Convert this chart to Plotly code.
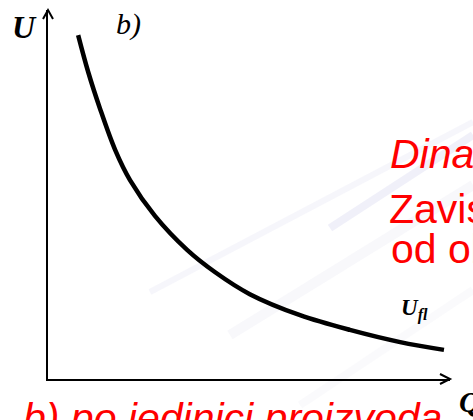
import plotly.graph_objects as go

# Average fixed cost per unit of output (U_fl) vs. quantity Q
q_values = [0.75, 1.00, 1.29, 1.67, 2.04, 2.66, 3.46, 4.15, 5.02, 6.27, 7.51, 8.76, 9.85]
u_values = [9.32, 8.32, 7.34, 6.21, 5.39, 4.42, 3.50, 2.90, 2.30, 1.73, 1.33, 1.00, 0.79]

axis_range = [0, 10]

W, H = 473, 420
M_L, M_R, M_T, M_B = 48, 23, 10, 41
PW, PH = W - M_L - M_R, H - M_T - M_B


def px(x):
    return (x - M_L) / PW


def py(y):
    return (H - M_B - y) / PH


fig = go.Figure()
fig.add_trace(go.Scatter(
    x=q_values, y=u_values, mode="lines",
    line=dict(color="black", width=4.5, shape="spline", smoothing=1.0),
    hoverinfo="skip", showlegend=False,
))

shapes = []
# faint diagonal streaks in the slide background
for (x0, y0, x1, y1, col, w) in [
    (150, 292, 473, 122, "rgba(215,215,235,0.22)", 6),
    (330, 228, 473, 135, "rgba(205,205,235,0.30)", 8),
    (230, 335, 473, 185, "rgba(228,228,240,0.25)", 10),
    (300, 405, 473, 290, "rgba(235,235,242,0.25)", 8),
]:
    shapes.append(dict(type="line", xref="paper", yref="paper",
                       x0=px(x0), y0=py(y0), x1=px(x1), y1=py(y1),
                       line=dict(color=col, width=w), layer="below"))

# open arrowheads on both axes
ax_, ay_ = 10 / PW, 5 / PH
shapes.append(dict(type="path", xref="paper", yref="paper",
                   path=f"M {1-ax_} {ay_} L 1 0 L {1-ax_} {-ay_}",
                   line=dict(color="black", width=2)))
bx_, by_ = 5 / PW, 9 / PH
shapes.append(dict(type="path", xref="paper", yref="paper",
                   path=f"M {-bx_} {1-by_} L 0 1 L {bx_} {1-by_}",
                   line=dict(color="black", width=2)))

serif = "Liberation Serif, Times New Roman, serif"
sans = "Liberation Sans, Arial, sans-serif"
red = "#ff0000"


def label(text, x, yc, size, family, color="black"):
    return dict(text=text, xref="paper", yref="paper", x=px(x), y=py(yc),
                xanchor="left", yanchor="middle", showarrow=False,
                font=dict(size=size, family=family, color=color))


annotations = [
    label("<b><i>U</i></b>", 10, 27, 32, serif),
    label("<i>b)</i>", 114, 24, 30, serif),
    label("<b><i>U<sub>fl</sub></i></b>", 399, 309, 23, serif),
    label("<b><i>Q</i></b>", 457, 401, 30, serif),
    label("<i>Dinamika</i>", 388, 154, 41, sans, red),
    label("Zavisnost", 387, 209, 41, sans, red),
    label("od obima", 389, 249, 41, sans, red),
    label("<i>b) po jedinici proizvoda</i>", 21, 418, 41, sans, red),
]

axis_style = dict(range=axis_range, showgrid=False, zeroline=False,
                  showticklabels=False, ticks="", showline=True,
                  linecolor="black", linewidth=2, fixedrange=True)

fig.update_layout(
    width=W, height=H,
    margin=dict(l=M_L, r=M_R, t=M_T, b=M_B),
    paper_bgcolor="white", plot_bgcolor="rgba(0,0,0,0)",
    xaxis=axis_style, yaxis=axis_style,
    shapes=shapes, annotations=annotations,
    showlegend=False,
)

fig.write_html("out.html", config={"displayModeBar": False})
